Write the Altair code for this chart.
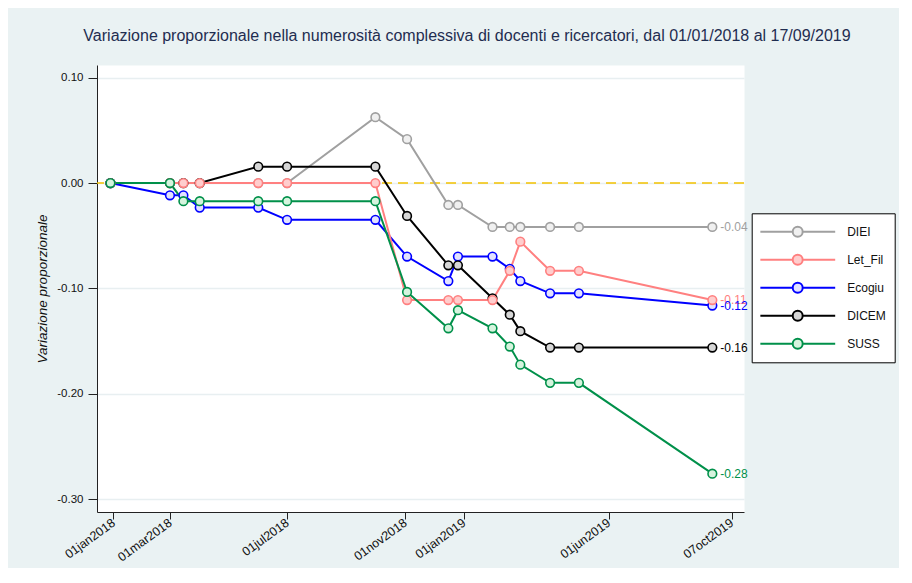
import altair as alt
import pandas as pd

# ---------------- data ----------------
series = ["DIEI", "Let_Fil", "Ecogiu", "DICEM", "SUSS"]
draw_order = ["DIEI", "Ecogiu", "DICEM", "Let_Fil", "SUSS"]
dates = ["2017-12-29", "2018-03-01", "2018-03-15", "2018-04-01", "2018-06-01",
         "2018-07-01", "2018-10-01", "2018-11-03", "2018-12-16", "2018-12-26",
         "2019-01-31", "2019-02-18", "2019-03-01", "2019-04-01", "2019-05-01",
         "2019-09-17"]
diei    = [0, 0, 0, 0, 0, 0, 0.0625, 0.0417, -0.0208, -0.0208,
           -0.0417, -0.0417, -0.0417, -0.0417, -0.0417, -0.0417]
let_fil = [0, 0, 0, 0, 0, 0, 0, -0.1111, -0.1111, -0.1111,
           -0.1111, -0.0833, -0.0556, -0.0833, -0.0833, -0.1111]
ecogiu  = [0, -0.0116, -0.0116, -0.0233, -0.0233, -0.0349, -0.0349, -0.0698, -0.0930, -0.0698,
           -0.0698, -0.0814, -0.0930, -0.1047, -0.1047, -0.1163]
dicem   = [0, 0, 0, 0, 0.0156, 0.0156, 0.0156, -0.0312, -0.0781, -0.0781,
           -0.1094, -0.1250, -0.1406, -0.1562, -0.1562, -0.1562]
suss    = [0, 0, -0.0172, -0.0172, -0.0172, -0.0172, -0.0172, -0.1034, -0.1379, -0.1207,
           -0.1379, -0.1552, -0.1724, -0.1897, -0.1897, -0.2759]
values_by_series = dict(zip(series, [diei, let_fil, ecogiu, dicem, suss]))

stroke_colors = ["#a0a0a0", "#ff8080", "#0000ff", "#000000", "#00904a"]
fill_colors = ["#f0f0f0", "#ffcdcd", "#e2e2ff", "#d6d6d6", "#d6f4de"]

x_tick_dates = ["2018-01-01", "2018-03-01", "2018-07-01", "2018-11-01",
                "2019-01-01", "2019-06-01", "2019-10-07"]
y_ticks = [0.10, 0.00, -0.10, -0.20, -0.30]
reference_value = [0.0]

title_text = ("Variazione proporzionale nella numerosità complessiva di docenti e "
              "ricercatori, dal 01/01/2018 al 17/09/2019")
y_title = "Variazione proporzionale"

# ---------------- tables ----------------
rows = []
for s in draw_order:
    for d, v in zip(dates, values_by_series[s]):
        rows.append({"series": s, "date": d, "value": v})
df = pd.DataFrame(rows)
df_last = pd.DataFrame({"series": series,
                        "date": [dates[-1]] * len(series),
                        "value": [values_by_series[s][-1] for s in series]})
df_zero = pd.DataFrame({"value": reference_value})


def dt(s):
    t = pd.Timestamp(s)
    return alt.DateTime(year=t.year, month=t.month, date=t.day, utc=True)


FONT = "Liberation Sans"
HYPHEN_FMT = "replace(format(datum.value, '.2f'), '\u2212', '-')"

x_scale = alt.Scale(type="utc", domain=[dt("2017-12-15"), dt("2019-10-20")])
y_scale = alt.Scale(domain=[-0.3123, 0.1121], nice=False, zero=False)

x_axis = alt.Axis(values=[dt(d) for d in x_tick_dates],
                  labelExpr="lower(utcFormat(datum.value, '%d%b%Y'))",
                  labelAngle=-36, labelAlign="right", labelBaseline="middle",
                  labelPadding=2, tickSize=7, grid=False, title=None,
                  labelFontSize=12.5, labelFont=FONT, labelColor="#111111",
                  domainColor="#222222", tickColor="#222222", labelOverlap=False)
y_axis = alt.Axis(values=y_ticks, labelExpr=HYPHEN_FMT, tickSize=9, labelPadding=5,
                  grid=True, gridColor="#e8eff1", gridWidth=1.5,
                  title=y_title, titleFontStyle="italic", titleFontWeight="normal",
                  titleFontSize=13.5, titleFont=FONT, titleColor="#111111", titlePadding=7,
                  labelFontSize=11.5, labelFont=FONT, labelColor="#111111",
                  domainColor="#222222", tickColor="#222222")

legend_path = ("M-1,0H-0.133M0.133,0H1M0.133,0A0.133,0.133,0,1,1,-0.133,0"
               "A0.133,0.133,0,1,1,0.133,0Z")
legend = alt.Legend(title=None, orient="none", legendX=654.7, legendY=148.3,
                    symbolType=legend_path, symbolSize=5625, symbolStrokeWidth=2,
                    clipHeight=20, rowPadding=8, padding=8.5,
                    fillColor="white", strokeColor="black",
                    labelFontSize=12, labelFont=FONT, labelColor="#111111",
                    labelOffset=11, symbolOffset=-1)

stroke_enc = alt.Stroke("series:N", scale=alt.Scale(domain=series, range=stroke_colors),
                        legend=legend)
fill_enc = alt.Fill("series:N", scale=alt.Scale(domain=series, range=fill_colors),
                    legend=legend)

X = alt.X("date:T", scale=x_scale, axis=x_axis)
Y = alt.Y("value:Q", scale=y_scale, axis=y_axis)

rule = alt.Chart(df_zero).mark_rule(color="#f2c200", strokeDash=[10, 6], strokeWidth=1.5).encode(
    y=alt.Y("value:Q", scale=y_scale, axis=y_axis))

lines = alt.Chart(df).mark_line(strokeWidth=2).encode(x=X, y=Y, stroke=stroke_enc)

points = alt.Chart(df).mark_point(shape="circle", size=75, strokeWidth=1.6,
                                  fillOpacity=1, opacity=1).encode(
    x=X, y=Y, stroke=stroke_enc, fill=fill_enc)

labels = alt.Chart(df_last).transform_calculate(
    label=HYPHEN_FMT
).mark_text(align="left", baseline="middle", dx=8, fontSize=12, font=FONT).encode(
    x=X, y=Y, text="label:N",
    color=alt.Color("series:N", scale=alt.Scale(domain=series, range=stroke_colors),
                    legend=None))

chart = alt.layer(rule, lines, points, labels).properties(
    width=647, height=447,
    autosize=alt.AutoSizeParams(type="none"),
    padding={"left": 89, "top": 57, "right": 155, "bottom": 56},
    background="#eaf2f3",
    title=alt.TitleParams(title_text, fontSize=16, font=FONT, color="#1f2d50",
                          fontWeight="normal", anchor="middle", frame="group",
                          dx=46.5, offset=7.7, baseline="alphabetic"),
).configure_view(fill="white", stroke="transparent")

chart.save("out.html", embed_options={"renderer": "svg", "actions": False})
